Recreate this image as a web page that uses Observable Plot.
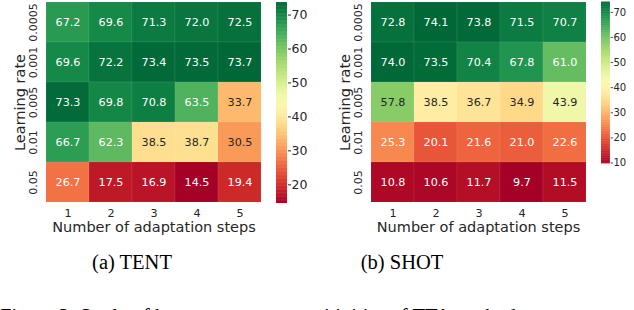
<!DOCTYPE html>
<html><head><meta charset="utf-8">
<script src="https://cdn.jsdelivr.net/npm/d3@7"></script>
<script src="https://cdn.jsdelivr.net/npm/@observablehq/plot@0.6"></script>
<style>
html,body{margin:0;padding:0;background:#fff;overflow:hidden}
#fig{position:relative;width:634px;height:310px;overflow:hidden;font-family:"DejaVu Sans",sans-serif}
.part{position:absolute;top:0}
.cbar text{font-size:12.5px !important;font-family:"DejaVu Sans",sans-serif !important}
.cap{position:absolute;font-family:"Liberation Serif","Times New Roman",serif;font-size:20.5px;line-height:20px;color:#000;white-space:nowrap}
</style></head><body><div id="fig"></div>
<script>
const steps = [1, 2, 3, 4, 5];
const learningRates = ["0.0005", "0.001", "0.005", "0.01", "0.05"];
const tentValues = [
  [67.2, 69.6, 71.3, 72.0, 72.5],
  [69.6, 72.2, 73.4, 73.5, 73.7],
  [73.3, 69.8, 70.8, 63.5, 33.7],
  [66.7, 62.3, 38.5, 38.7, 30.5],
  [26.7, 17.5, 16.9, 14.5, 19.4]
];
const shotValues = [
  [72.8, 74.1, 73.8, 71.5, 70.7],
  [74.0, 73.5, 70.4, 67.8, 61.0],
  [57.8, 38.5, 36.7, 34.9, 43.9],
  [25.3, 20.1, 21.6, 21.0, 22.6],
  [10.8, 10.6, 11.7, 9.7, 11.5]
];
const panelTitles = ["(a) TENT", "(b) SHOT"];
const xLabel = "Number of adaptation steps";
const yLabel = "Learning rate";
const figureCaption = "Figure 3: Study of hyperparameter sensitivities of TTA methods.";

const fig = document.getElementById("fig");
const DARK = "#262626";

function lum(c) {
  const r = d3.rgb(c);
  const f = x => { x /= 255; return x <= 0.03928 ? x / 12.92 : Math.pow((x + 0.055) / 1.055, 2.4); };
  return 0.2126 * f(r.r) + 0.7152 * f(r.g) + 0.0722 * f(r.b);
}

function place(node, left, top, cls) {
  const d = document.createElement("div");
  d.className = "part" + (cls ? " " + cls : "");
  d.style.left = left + "px";
  d.style.top = top + "px";
  d.appendChild(node);
  fig.appendChild(d);
}

function panel(values, left, cellW, cbLeft, cbWidth, title, capCenter) {
  const cells = [];
  learningRates.forEach((lr, i) => steps.forEach((s, j) => cells.push({lr, step: s, v: values[i][j]})));
  const [vmin, vmax] = d3.extent(cells, d => d.v);
  const color = {type: "linear", scheme: "rdylgn", domain: [vmin, vmax]};
  const textFill = d => lum(d3.interpolateRdYlGn((d.v - vmin) / (vmax - vmin))) > 0.408 ? DARK : "white";
  const W = 44 + cellW + 2;
  const heat = Plot.plot({
    width: W, height: 240,
    marginLeft: 44, marginRight: 2, marginTop: 0, marginBottom: 36,
    x: {type: "band", domain: steps, padding: 0, axis: null},
    y: {type: "band", domain: learningRates, padding: 0, axis: null},
    color,
    style: {fontFamily: "DejaVu Sans", fontSize: "11px", color: DARK, background: "transparent", overflow: "visible"},
    marks: [
      Plot.cell(cells, {x: "step", y: "lr", fill: "v", inset: 0, stroke: "white", strokeOpacity: 0.12, strokeWidth: 0.6}),
      Plot.text(cells, {x: "step", y: "lr", text: d => d.v.toFixed(1), fill: textFill, fontSize: 11.2}),
      Plot.axisX({tickSize: 0, tickPadding: 5, fontSize: 11.2, label: null, fill: DARK}),
      Plot.text(learningRates, {y: d => d, frameAnchor: "left", dx: -11, rotate: -90, textAnchor: "middle", lineAnchor: "middle", fontSize: 11, fill: DARK}),
      Plot.text([yLabel], {frameAnchor: "left", dx: -24, rotate: -90, textAnchor: "middle", lineAnchor: "middle", fontSize: 14.5, fill: DARK}),
      Plot.text([xLabel], {frameAnchor: "bottom", dy: 23, textAnchor: "middle", lineAnchor: "middle", fontSize: 14.5, fill: DARK})
    ]
  });
  place(heat, left, 0);

  const n = 256;
  const stepV = (vmax - vmin) / n;
  const cb = d3.range(n).map(i => vmin + stepV * i);
  const ticks = d3.range(Math.ceil(vmin / 10) * 10, vmax, 10);
  const bar = Plot.plot({
    width: cbWidth + 30, height: 240,
    marginLeft: 0, marginRight: 30, marginTop: 2, marginBottom: 37,
    y: {domain: [vmin, vmax], axis: null},
    color,
    style: {fontFamily: "DejaVu Sans", fontSize: "12.5px", color: DARK, background: "transparent", overflow: "visible"},
    marks: [
      Plot.rect(cb, {y1: d => d, y2: d => Math.min(vmax, d + stepV * 1.6), fill: d => d + stepV / 2}),
      Plot.axisY({anchor: "right", ticks, tickSize: 3, tickPadding: 1, fontSize: 12.5, label: null, fill: DARK, stroke: DARK})
    ]
  });
  place(bar, cbLeft, 0, "cbar");

  const cap = document.createElement("div");
  cap.className = "cap";
  cap.textContent = title;
  cap.style.left = capCenter + "px";
  cap.style.top = "252px";
  cap.style.transform = "translateX(-50%)";
  fig.appendChild(cap);
}

panel(tentValues, 0, 219, 276, 11, panelTitles[0], 132);
panel(shotValues, 325, 218, 601, 11, panelTitles[1], 402);

const fc = document.createElement("div");
fc.className = "cap";
fc.textContent = figureCaption;
fc.style.left = "0px";
fc.style.top = "306px";
fig.appendChild(fc);
</script>
</body></html>
